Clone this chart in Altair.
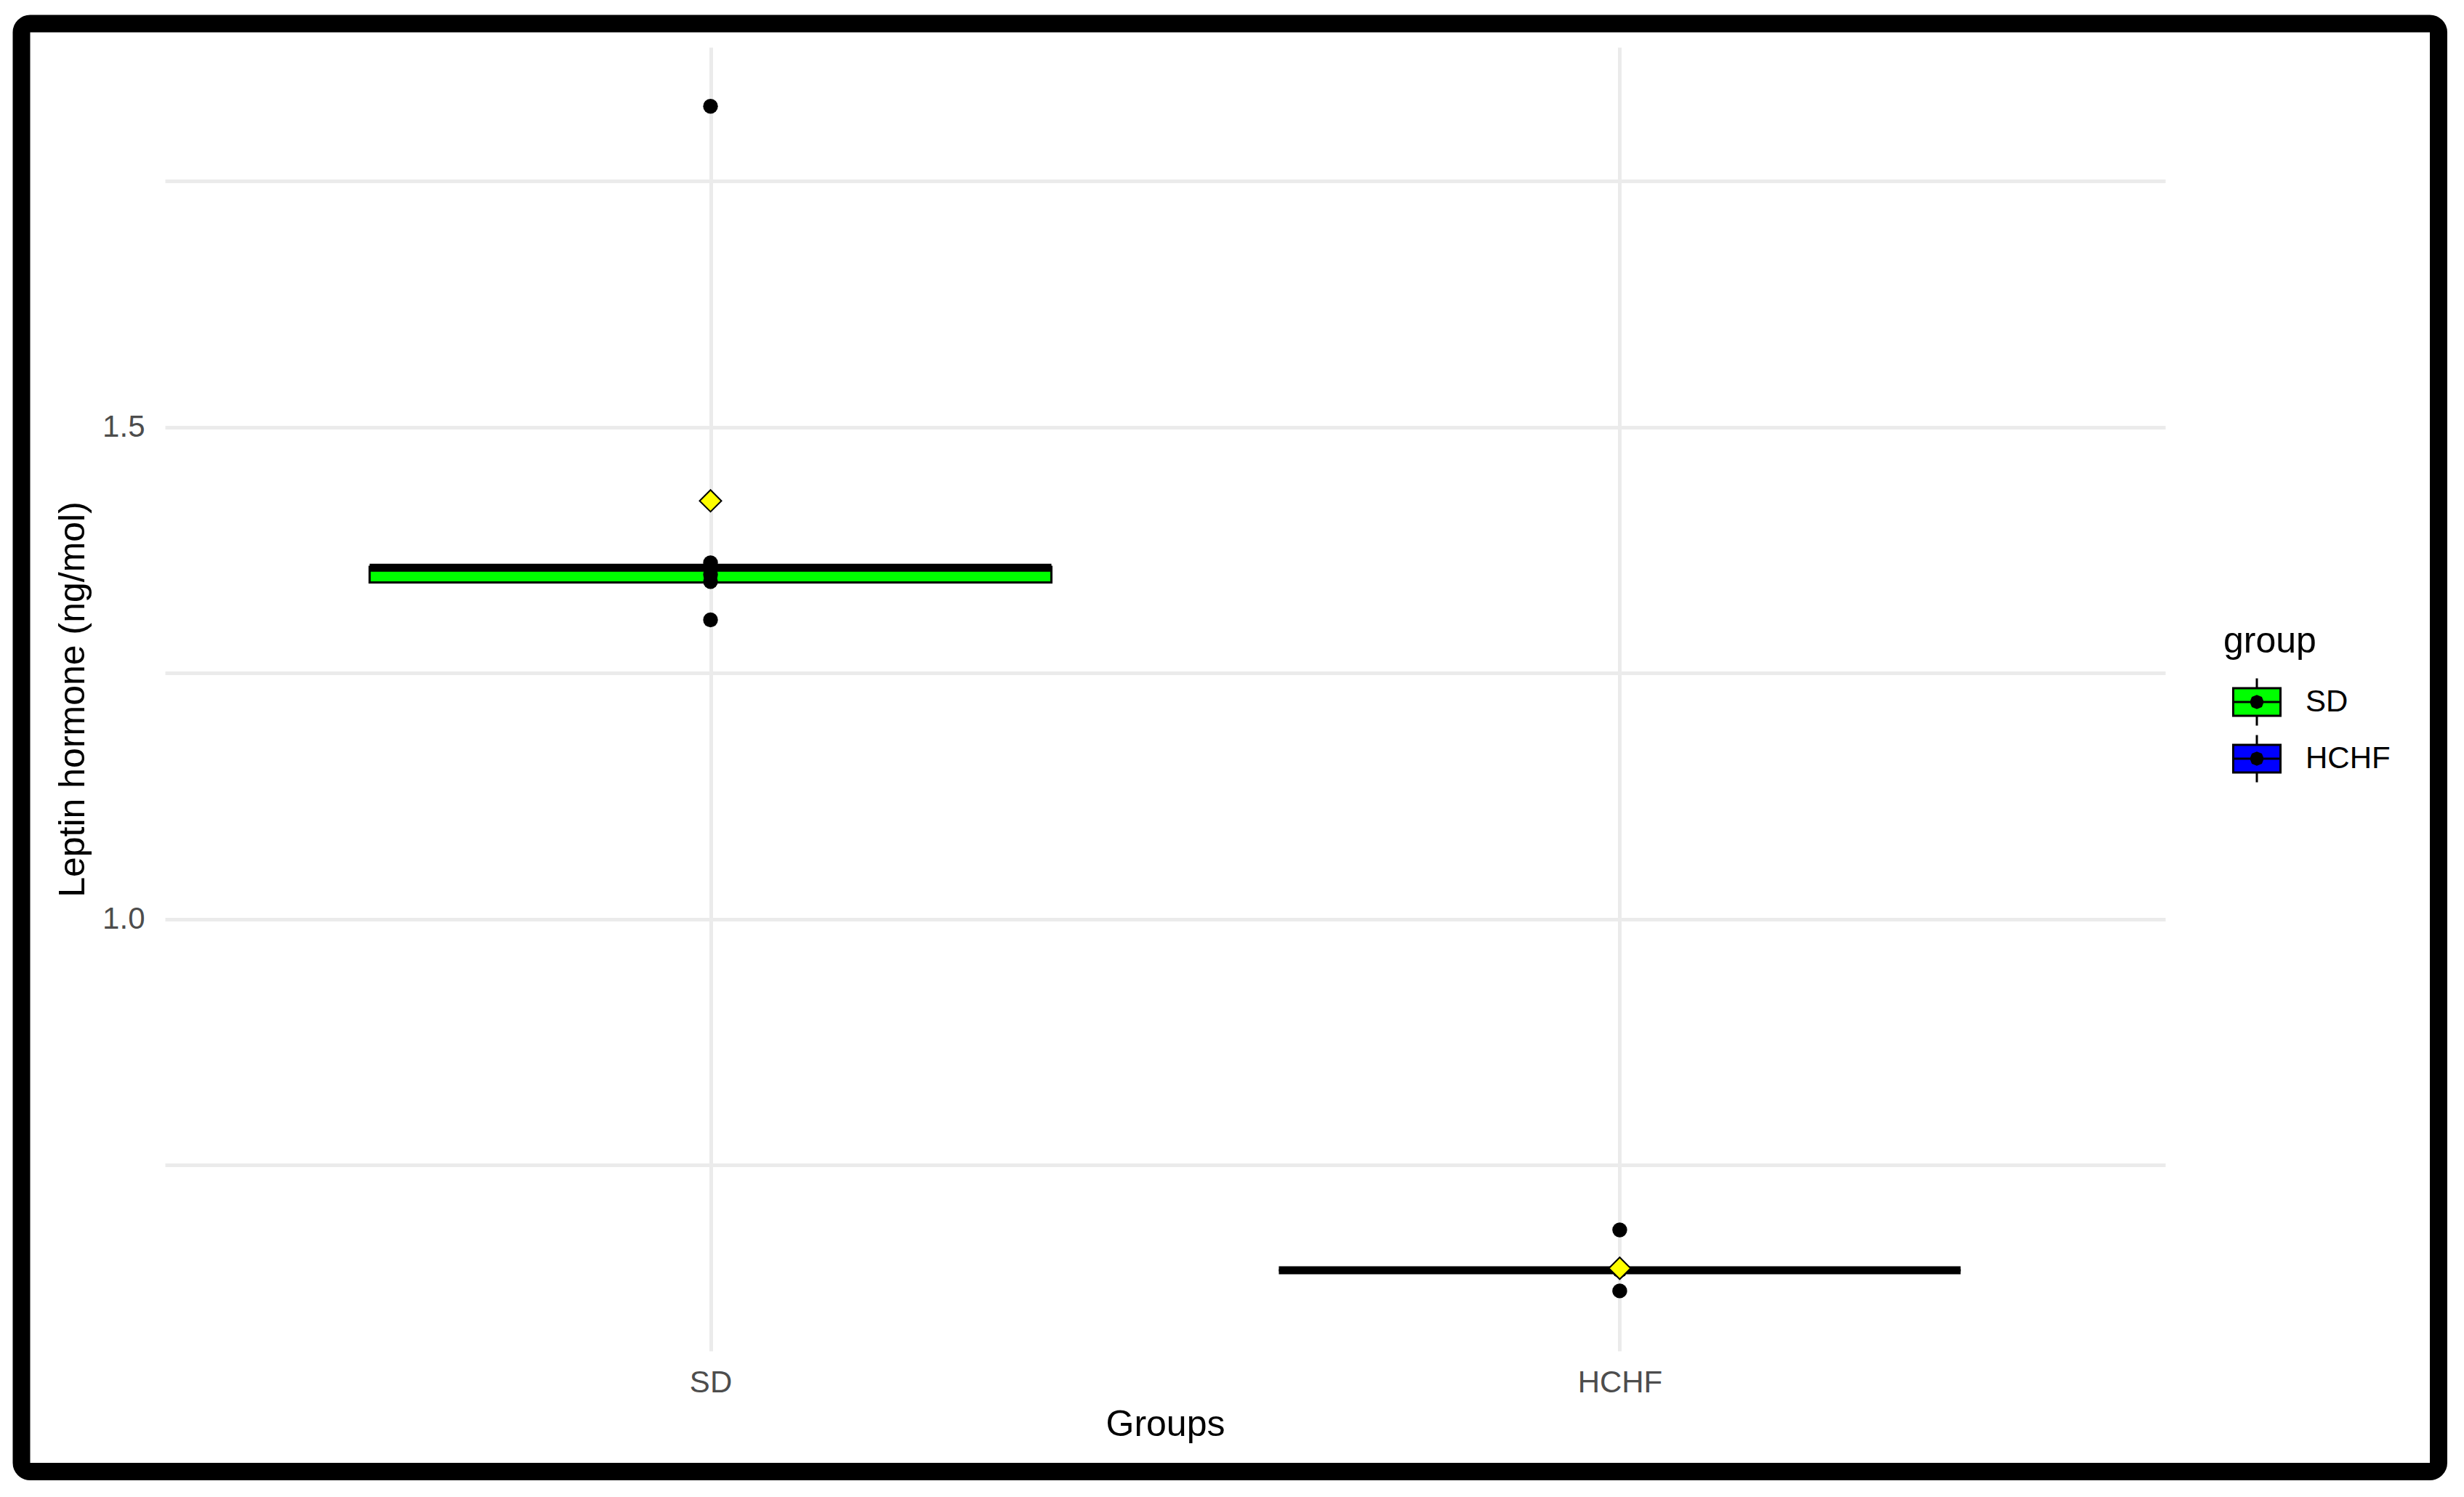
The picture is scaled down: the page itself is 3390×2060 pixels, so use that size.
import altair as alt
import pandas as pd

# ---- data ----
groups = ["SD", "HCHF"]
q1 = [1.342, 0.643]
median = [1.357, 0.643]
q3 = [1.358, 0.643]
whisk_lo = [1.343, 0.643]
whisk_hi = [1.362, 0.643]
means = [1.425, 0.645]
sd_points = [1.826, 1.362, 1.357, 1.350, 1.343, 1.304]
hchf_points = [0.684, 0.643, 0.643, 0.643, 0.643, 0.622]
fill_colors = ["#00FF00", "#0000FF"]
y_ticks = [0.75, 1.0, 1.25, 1.5, 1.75]

box_df = pd.DataFrame({"group": groups, "q1": q1, "median": median, "q3": q3,
                       "lo": whisk_lo, "hi": whisk_hi, "mean": means})
pts_df = pd.DataFrame({
    "group": ["SD"] * len(sd_points) + ["HCHF"] * len(hchf_points),
    "value": sd_points + hchf_points,
})

FONT = "Liberation Sans"
W, H = 2752, 1794
BOXW = 938

x_scale = alt.Scale(type="point", domain=groups, padding=0.6)
y_scale = alt.Scale(domain=[0.561, 1.886], nice=False, zero=False)

x_axis = alt.Axis(title="Groups", grid=True, gridColor="#EBEBEB", gridWidth=5,
                  domain=False, ticks=False, labelFontSize=42, labelColor="#4D4D4D",
                  labelPadding=23, titleFontSize=50, titleColor="black",
                  titleFontWeight="normal", titlePadding=12, labelAngle=0)
y_axis = alt.Axis(title="Leptin hormone (ng/mol)", values=y_ticks, grid=True,
                  gridColor="#EBEBEB", gridWidth=5, domain=False, ticks=False,
                  labelFontSize=42, labelColor="#4D4D4D", labelPadding=28,
                  labelExpr="(datum.value == 1 || datum.value == 1.5) ? format(datum.value, '.1f') : ''",
                  titleFontSize=50, titleColor="black", titleFontWeight="normal",
                  titlePadding=15)


def X():
    return alt.X("group:N", scale=x_scale, axis=x_axis, sort=groups)


def Y(field):
    return alt.Y(f"{field}:Q", scale=y_scale, axis=y_axis, title="Leptin hormone (ng/mol)")


# legend key glyph: box + median + whiskers + dot (concentric rings)
def ring(r):
    pts = [(r, 0), (0.707 * r, 0.707 * r), (0, r), (-0.707 * r, 0.707 * r), (-r, 0),
           (-0.707 * r, -0.707 * r), (0, -r), (0.707 * r, -0.707 * r)]
    return "M" + " L".join(f"{a:.3f},{b:.3f}" for a, b in pts) + " Z"


key_path = ("M-1,-0.585 H1 V0.585 H-1 Z M-1,0 H1 M0,-0.585 V-1 M0,0.585 V1 "
            + ring(0.25) + " " + ring(0.16) + " " + ring(0.07))

border = alt.Chart(pd.DataFrame({"k": [0]})).mark_rect(
    filled=False, stroke="black", strokeWidth=24, cornerRadius=12
).encode(x=alt.value(-197.5), x2=alt.value(3128), y=alt.value(-32.5), y2=alt.value(1960))

whiskers = alt.Chart(box_df).mark_rule(color="black", strokeWidth=3).encode(
    x=X(), y=Y("lo"), y2="hi:Q")

boxes = alt.Chart(box_df).mark_bar(size=BOXW, stroke="black", strokeWidth=3).encode(
    x=X(), y=Y("q1"), y2="q3:Q",
    fill=alt.Fill("group:N", scale=alt.Scale(domain=groups, range=fill_colors),
                  legend=alt.Legend(title="group", orient="none", legendX=2832, legendY=793,
                                    symbolType=key_path, symbolSize=4225,
                                    symbolStrokeColor="black", symbolStrokeWidth=3,
                                    symbolOffset=12, labelOffset=33, rowPadding=0,
                                    titleFontSize=50, titleFontWeight="normal",
                                    titleColor="black", titlePadding=24,
                                    labelFontSize=42, labelColor="black", padding=0)))

medians = alt.Chart(box_df).mark_tick(size=BOXW, thickness=11, color="black", opacity=1).encode(
    x=X(), y=Y("median"))

points = alt.Chart(pts_df).mark_circle(size=415, color="black", opacity=1).encode(
    x=X(), y=Y("value"))

mean_pts = alt.Chart(box_df).mark_point(shape="diamond", filled=True, fill="#FFFF00",
                                        stroke="black", strokeWidth=2, size=900,
                                        opacity=1).encode(x=X(), y=Y("mean"))

chart = alt.layer(border, whiskers, boxes, medians, points, mean_pts).properties(
    width=W, height=H,
    autosize=alt.AutoSizeParams(type="none"),
    padding={"left": 219, "top": 57, "right": 390, "bottom": 180},
    background="white",
).configure(font=FONT).configure_view(strokeWidth=0)

chart.save("out.html", embed_options={"renderer": "svg", "actions": False})
